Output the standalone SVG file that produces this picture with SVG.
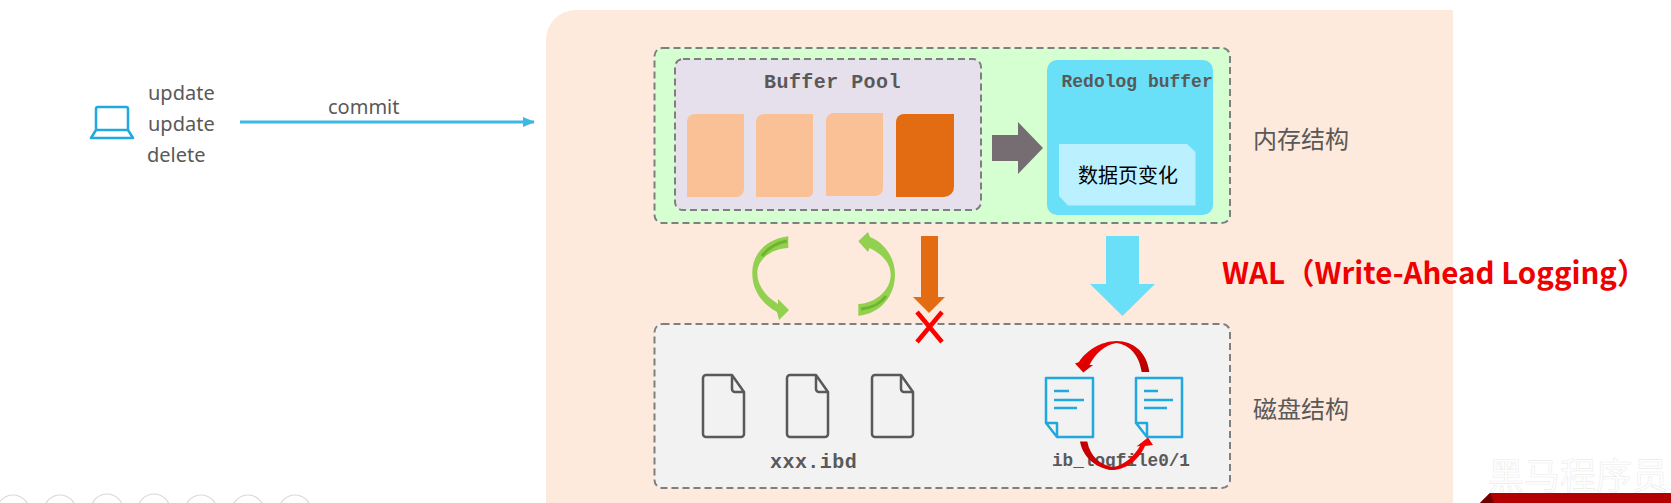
<svg xmlns="http://www.w3.org/2000/svg" width="1671" height="503" viewBox="0 0 1671 503">
<style>
.t{font-family:"Noto Sans","Open Sans",sans-serif;font-size:20px;fill:#595959}
.z{font-family:"Noto Sans CJK SC",sans-serif;font-size:24px;fill:#595959}
.m{font-family:"Liberation Mono",monospace;font-weight:700;fill:#595959}
.d{stroke:#7f7f7f;stroke-width:2;stroke-dasharray:7 4}
.page{fill:#f9c195}
.file{fill:none;stroke:#595959;stroke-width:2.5;stroke-linejoin:round}
.log{fill:none;stroke:#1fa9de;stroke-width:2.5;stroke-linejoin:round}
.arc{fill:#92d050}
.arcd{fill:none;stroke:#6fb52f;stroke-width:3}
.dot{fill:#fff;stroke:#d9d9d9;stroke-width:1.2}
</style>
<defs>
<linearGradient id="r1" x1="1" y1="1" x2="0" y2="0"><stop offset="0" stop-color="#b00000"/><stop offset="0.5" stop-color="#d80000"/><stop offset="1" stop-color="#ff0000"/></linearGradient>
<linearGradient id="r2" x1="0" y1="0" x2="1" y2="0"><stop offset="0" stop-color="#c00000"/><stop offset="1" stop-color="#ff0000"/></linearGradient>
<marker id="ah" markerWidth="12" markerHeight="10" refX="11" refY="5" orient="auto" markerUnits="userSpaceOnUse"><path d="M0 0L12 5L0 10Z" fill="#3eb8e3"/></marker>
</defs>
<rect width="1671" height="503" fill="#fff"/>
<rect id="panel" x="546" y="10" width="960" height="520" rx="30" fill="#fee9dd"/>
<rect x="1453" y="0" width="218" height="503" fill="#fff"/>

<g id="client">
<path class="log" d="M95 138h-4l5-8V109a2 2 0 0 1 2-2h28a2 2 0 0 1 2 2v21l5 8zM96 130h32"/>
<text class="t" x="148" y="100">update</text>
<text class="t" x="148" y="131">update</text>
<text class="t" x="147" y="162">delete</text>
</g>

<g id="memory">
<rect class="d" x="654.5" y="48" width="575.5" height="175" rx="8" fill="#d5ffd0"/>
<text class="z" x="1253" y="148">内存结构</text>
</g>
<g id="buffer-pool">
<rect class="d" x="675" y="59" width="306" height="151" rx="8" fill="#e6e0ec"/>
<text class="m" x="764" y="88" font-size="20" letter-spacing="0.45">Buffer Pool</text>
<path class="page" d="M695 114H744V189a8 8 0 0 1-8 8H687V122a8 8 0 0 1 8-8z"/>
<path class="page" d="M764 114H813V192a5 5 0 0 1-5 5H756V122a8 8 0 0 1 8-8z"/>
<path class="page" d="M834 113H883V188a8 8 0 0 1-8 8H826V121a8 8 0 0 1 8-8z"/>
<path d="M904 114H954V187a10 10 0 0 1-10 10H896V122a8 8 0 0 1 8-8z" fill="#e36c12"/>
</g>
<g id="redolog-buffer">
<rect x="1047" y="60" width="166" height="155" rx="10" fill="#69e0f7"/>
<text class="m" x="1061.5" y="87" font-size="18">Redolog buffer</text>
<path d="M1059 144H1187L1195.5 152V205.5H1068L1059 196z" fill="#bbf0ff"/>
<text x="1078" y="183" font-size="20" font-family="'Noto Sans CJK SC',sans-serif" fill="#000">数据页变化</text>
</g>
<g id="disk">
<rect class="d" x="654.5" y="324" width="575.5" height="164" rx="8" fill="#f2f2f2"/>
<text class="z" x="1253" y="418">磁盘结构</text>
<text class="m" x="770" y="468" font-size="20" letter-spacing="0.45">xxx.ibd</text>
<path class="file" d="M706 375H732L744 392V434a3 3 0 0 1-3 3H706a3 3 0 0 1-3-3V378a3 3 0 0 1 3-3zM732 375V389a3 3 0 0 0 3 3H744"/>
<path class="file" d="M790 375H816L828 392V434a3 3 0 0 1-3 3H790a3 3 0 0 1-3-3V378a3 3 0 0 1 3-3zM816 375V389a3 3 0 0 0 3 3H828"/>
<path class="file" d="M875 375H901L913 392V434a3 3 0 0 1-3 3H875a3 3 0 0 1-3-3V378a3 3 0 0 1 3-3zM901 375V389a3 3 0 0 0 3 3H913"/>
</g>
<g id="logfiles">
<path class="log" d="M1046 378H1093V437H1057L1046 423zM1046 423H1057V437M1054 391h15M1054 400h30M1054 408h23"/>
<path class="log" d="M1136 378H1182V437H1147L1136 423zM1136 423H1147V437M1144 391h14M1144 400h29M1144 408h23"/>
<text class="m" x="1052" y="466" font-size="17.7">ib_logfile0/1</text>
</g>

<g id="connectors">
<line x1="240" y1="122" x2="534" y2="122" stroke="#3eb8e3" stroke-width="3" marker-end="url(#ah)"/>
<text class="t" x="328" y="114">commit</text>
<path d="M992 135H1018V122L1043 148L1018 174V161H992z" fill="#756d72"/>
<path d="M921 236H938V297H945L929 313L913 297H921z" fill="#e36c12"/>
<path d="M1106 236H1139V284H1155L1122.5 316L1090 284H1106z" fill="#69e0f7"/>
<path class="arc" d="M788.3 236.3C766 239 752 254 752.3 273C752 290 762 304 777 312L779 320L789 310L778 299L778 304C765 296 757.3 285 757.3 273C757.3 260 770 249 788.3 248Z"/>
<path class="arcd" d="M787 241C775 243 768 248 762 256"/>
<path class="arc" d="M858.3 315.7C880 314 895 296 895 274.7C895 258 885 243 870 237L868 232L858.3 241.3L868 252L869.5 248C882 254 890.7 263 890.7 274.7C890.7 290 876 303 858.3 304Z"/>
<path class="arcd" d="M861 309C872 308 881 303 886 296"/>
<path d="M917 312L942 342M942 312L917 342" stroke="#f00" stroke-width="4.5" fill="none"/>
<path d="M1149.3 372C1147 352 1133 341 1116.7 341C1100 341 1085 352 1079 362L1075 363.5L1083.3 372.5L1093 365L1089.500 365C1095 354 1104 345 1116.7 343C1129 345 1139 354 1141.7 372Z" fill="url(#r1)"/>
<path d="M1080 441.5C1083 458 1097 469 1113.3 470C1128 469 1140 458 1145 446L1153 445L1148 437.5L1136.5 446.5L1140 446C1134 456 1125 465 1113.3 467C1100 465 1090 456 1087.3 441.5Z" fill="url(#r2)"/>
</g>

<g id="wal"><text x="1222" y="284" font-size="29.5" font-weight="700" fill="#ee0000" font-family="'Noto Sans CJK SC',sans-serif">WAL（Write-Ahead Logging）</text></g>

<g id="toolbar">
<circle class="dot" cx="13" cy="511" r="16"/><circle class="dot" cx="60" cy="511" r="16"/><circle class="dot" cx="107" cy="510" r="16"/><circle class="dot" cx="154" cy="510" r="16"/><circle class="dot" cx="201" cy="511" r="16"/><circle class="dot" cx="248" cy="511" r="16"/><circle class="dot" cx="295" cy="511" r="16"/>
</g>
<g id="logo">
<text x="1488" y="489" font-size="36" font-family="'Noto Sans CJK SC',sans-serif" fill="#fff" stroke="#ececec" stroke-width="0.6">黑马程序员</text>
<path d="M1490 493H1671V503H1480z" fill="#b30000"/>
<path d="M1490 493L1494 503H1480z" fill="#6e0000"/>
</g>
</svg>
